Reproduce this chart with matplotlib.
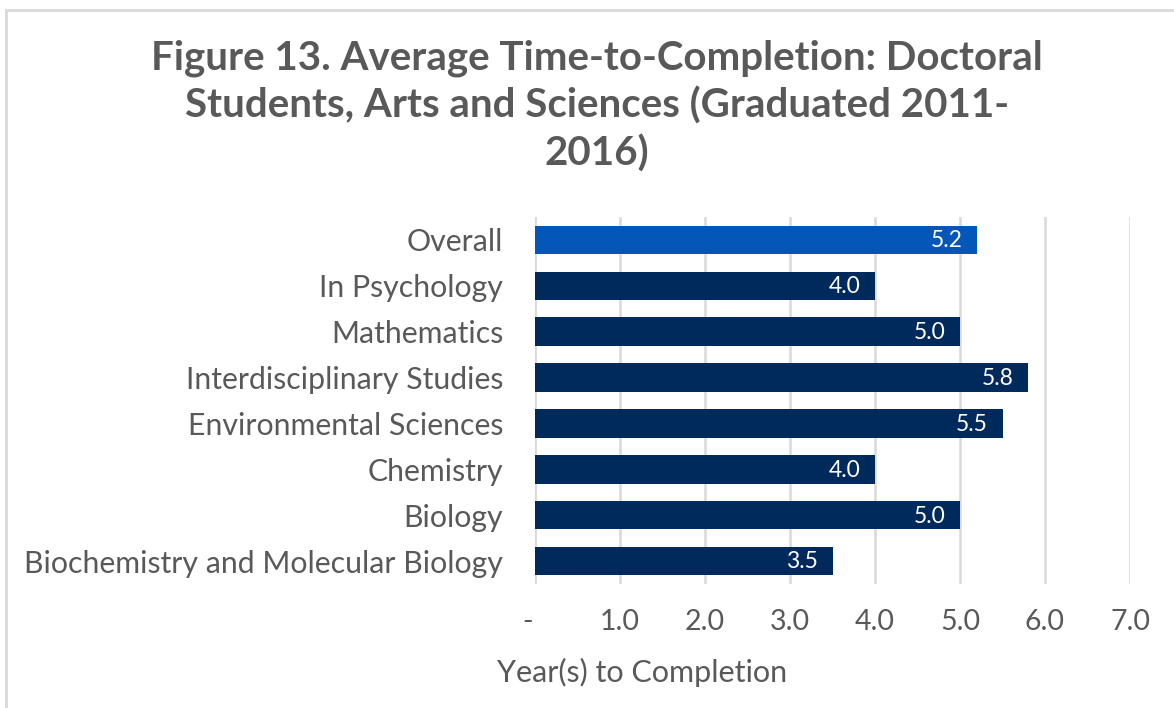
import matplotlib
matplotlib.use("Agg")
import matplotlib.pyplot as plt
from matplotlib.transforms import ScaledTranslation
from matplotlib.patches import Rectangle

categories = ["Overall", "In Psychology", "Mathematics", "Interdisciplinary Studies",
              "Environmental Sciences", "Chemistry", "Biology",
              "Biochemistry and Molecular Biology"]
values = [5.2, 4.0, 5.0, 5.8, 5.5, 4.0, 5.0, 3.5]
bar_colors = ["#0457B9"] + ["#002A5C"] * 7
xticks = [0, 1, 2, 3, 4, 5, 6, 7]
xtick_labels = ["-", "1.0", "2.0", "3.0", "4.0", "5.0", "6.0", "7.0"]
title = "Figure 13. Average Time-to-Completion: Doctoral\nStudents, Arts and Sciences (Graduated 2011-\n2016)"
xlabel = "Year(s) to Completion"

plt.rcParams['font.family'] = ['Lato', 'DejaVu Sans']
GREY = "#595959"

fig = plt.figure(figsize=(11.74, 7.08), dpi=100)
fig.patches.append(Rectangle((6/1174, -0.01), 1.2, 1 - 10/708 + 0.01, transform=fig.transFigure,
                             fill=False, edgecolor="#d9d9d9", linewidth=2))

ax = fig.add_axes([535/1174, 1 - 584/708, (1130 - 535)/1174, (584 - 217)/708])
y = list(range(len(categories)))
ax.barh(y, values, height=0.62, color=bar_colors, zorder=3)
ax.set_ylim(len(categories) - 0.5, -0.5)
ax.set_xlim(0, 7)
ax.set_yticks(y)
ax.set_yticklabels(categories, fontsize=21.8, color=GREY)
ax.set_xticks(xticks)
ax.set_xticklabels(xtick_labels, fontsize=20.5, color=GREY)
ax.tick_params(axis='both', length=0)
ax.tick_params(axis='y', pad=23)
ax.tick_params(axis='x', pad=18)
lbl0 = ax.get_xticklabels()[0]
lbl0.set_transform(lbl0.get_transform() + ScaledTranslation(-8/100, 0, fig.dpi_scale_trans))
for s in ax.spines.values():
    s.set_visible(False)
ax.grid(axis='x', color="#d9d9d9", linewidth=1.8, zorder=0)
ax.axvline(0, color="#d9d9d9", linewidth=1.8, zorder=1)

for yi, v in zip(y, values):
    ax.text(v - 0.17, yi + 0.02, f"{v:.1f}", ha='right', va='center', color='white',
            fontsize=16.5, zorder=4)

ax.set_xlabel(xlabel, fontsize=22, color=GREY)
ax.xaxis.label.set_ha('center')
ax.xaxis.label.set_va('center')
ax.xaxis.set_label_coords(642/1174, 1 - 672/708, transform=fig.transFigure)

fig.text(597/1174, 1 - 106/708, title, ha='center', va='center', fontsize=29,
         fontweight='bold', color=GREY, linespacing=1.32)

fig.savefig("out.png", dpi=100)
